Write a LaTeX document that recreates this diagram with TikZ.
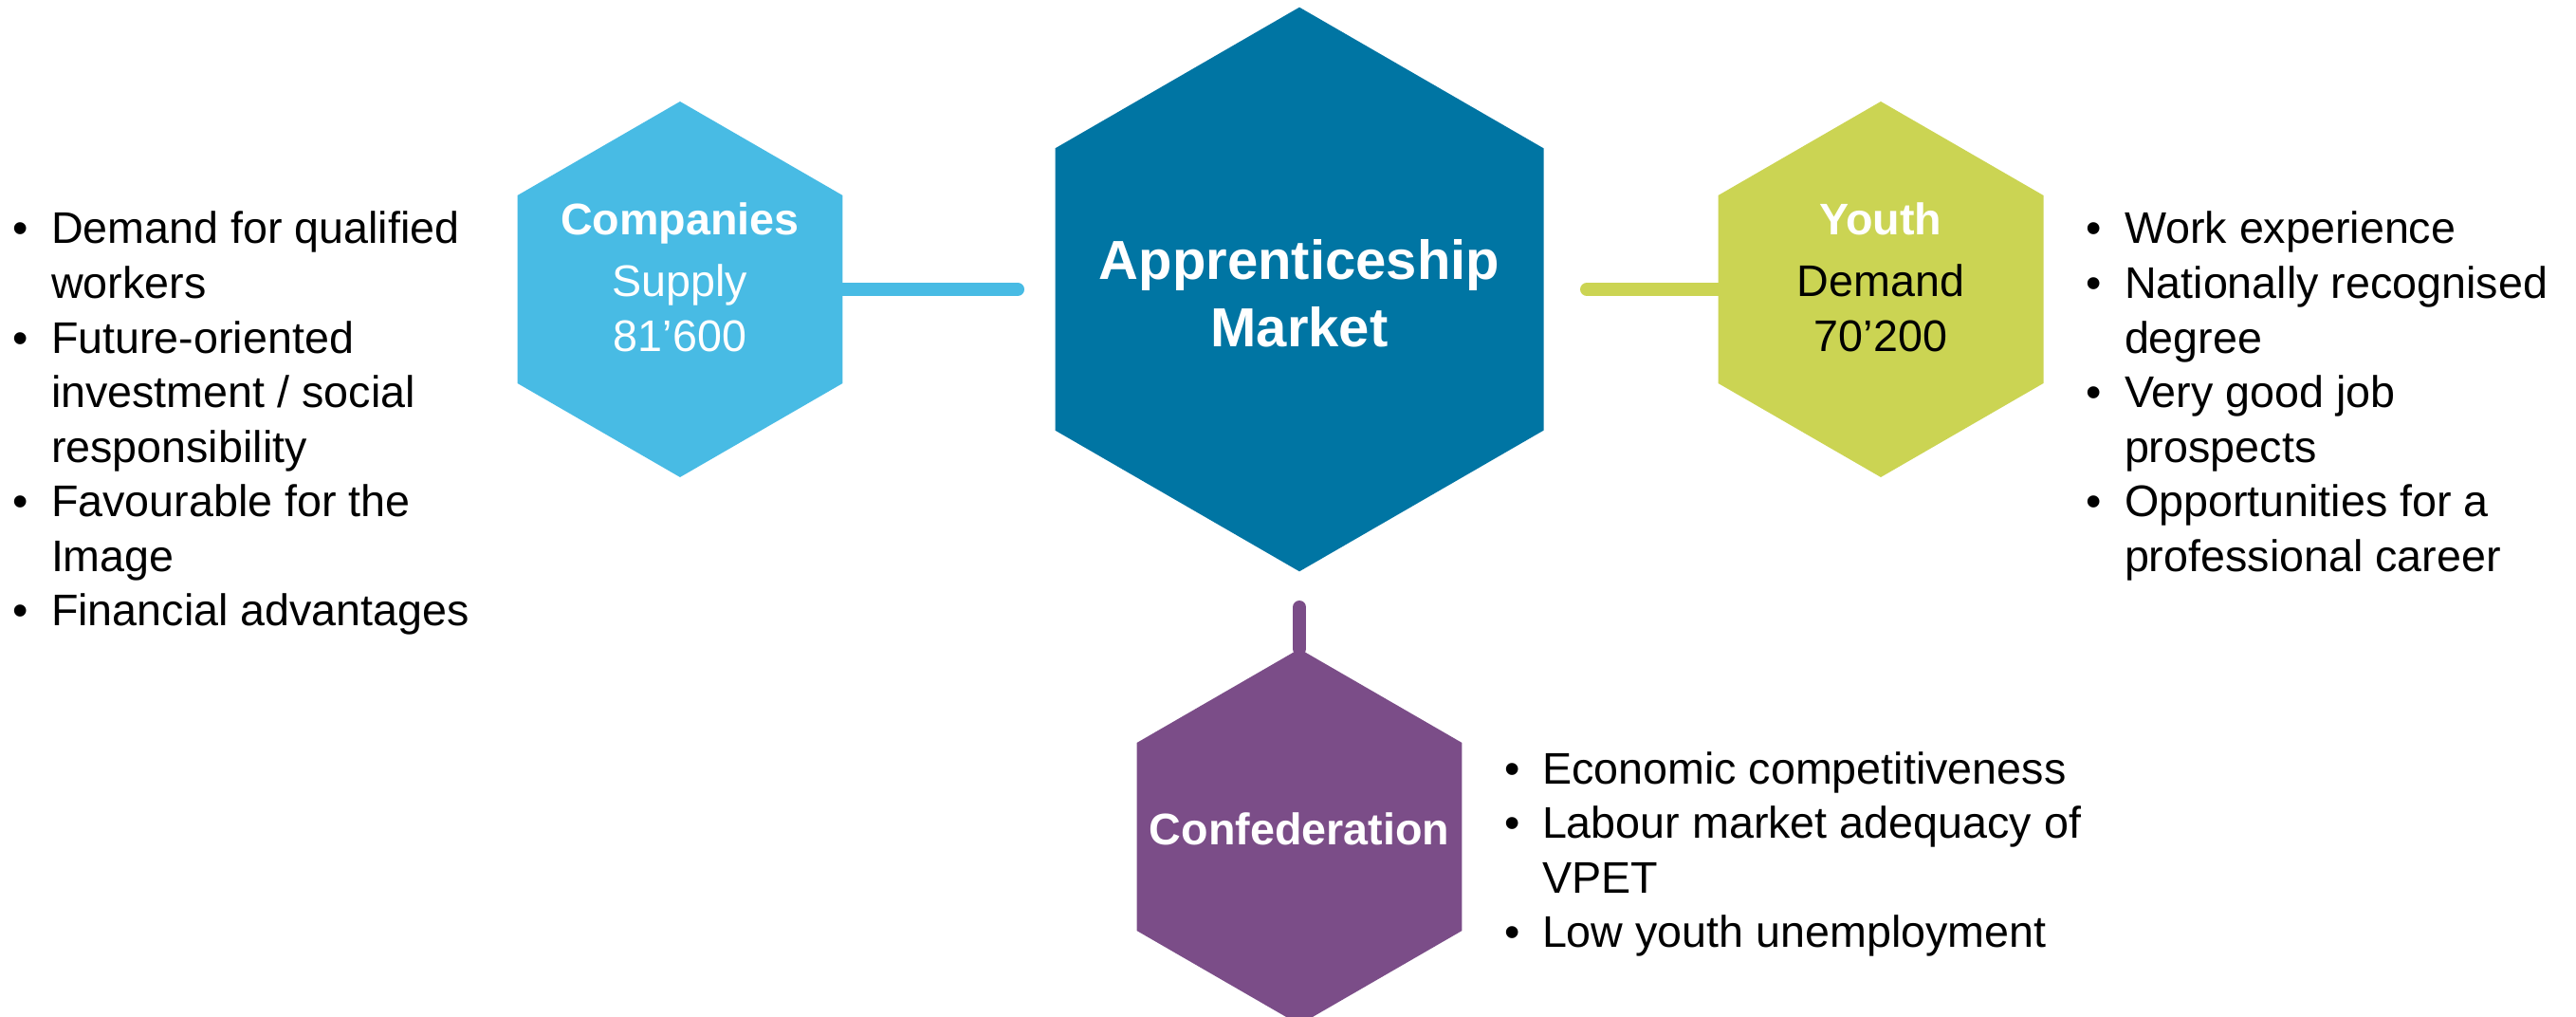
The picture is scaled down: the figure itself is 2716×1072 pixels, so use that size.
\documentclass[tikz,border=0pt]{standalone}
\usepackage{fontspec}
\setmainfont{Liberation Sans}
\usetikzlibrary{shapes.geometric}
\definecolor{compblue}{RGB}{72,187,228}
\definecolor{mktblue}{RGB}{0,117,163}
\definecolor{youthgreen}{RGB}{203,212,83}
\definecolor{confpurple}{RGB}{123,77,136}
\begin{document}
\begin{tikzpicture}[x=0.3pt,y=-0.3pt,
  hexa/.style={regular polygon, regular polygon sides=6, shape border rotate=30,
    inner sep=0pt, outer sep=0pt, draw=none},
  smallhex/.style={hexa, minimum size=118.8pt},
  conn/.style={line width=4.2pt, line cap=round},
  lbl/.style={anchor=base, inner sep=0pt, outer sep=0pt, font=\fontsize{14}{17}\selectfont},
  lblb/.style={lbl, font=\fontsize{14}{17}\selectfont\bfseries},
  item/.style={anchor=base west, inner sep=0pt, outer sep=0pt, font=\fontsize{14}{17}\selectfont},
]
\useasboundingbox (0,0) rectangle (2716,1072);

% hexagons
\node[hexa, minimum size=178.4pt, fill=mktblue] (mkt) at (1370,305) {};
\node[smallhex, fill=compblue] (comp) at (717,305) {};
\node[smallhex, fill=youthgreen] (youth) at (1983,305) {};
\node[smallhex, fill=confpurple] (conf) at (1370,882) {};

% connectors
\coordinate (c1) at (1073,305);
\coordinate (c2) at (1673,305);
\coordinate (c3) at (1370,640);
\draw[conn, compblue] (comp.0) -- (c1);
\draw[conn, youthgreen] (c2) -- (youth.180);
\draw[conn, confpurple] (c3) -- (conf.90);

% hexagon labels
\node[lbl, font=\fontsize{17.4}{21}\selectfont\bfseries, text=white] (tmk1) at (1370,294) {Apprenticeship};
\node[lbl, font=\fontsize{17.4}{21}\selectfont\bfseries, text=white] (tmk2) at (1370,366) {Market};

\node[lblb, text=white] (tcomp) at (717,248) {Companies};
\node[lbl, text=white] (tsup) at (717,313) {Supply};
\node[lbl, text=white] (tsupn) at (717,370) {81’600};

\node[lblb, text=white] (tyouth) at (1983,248) {Youth};
\node[lbl, text=black] (tdem) at (1983,313) {Demand};
\node[lbl, text=black] (tdemn) at (1983,370) {70’200};

\node[lblb, text=white] (tconf) at (1370,890) {Confederation};

% left list
\node[item] (lb1) at (14,257) {•};
\node[item] (l1) at (54,257) {Demand for qualified};
\node[item] (l2) at (54,314.5) {workers};
\node[item] (lb2) at (14,372) {•};
\node[item] (l3) at (54,372) {Future-oriented};
\node[item] (l4) at (54,429.5) {investment / social};
\node[item] (l5) at (54,487) {responsibility};
\node[item] (lb3) at (14,544.5) {•};
\node[item] (l6) at (54,544.5) {Favourable for the};
\node[item] (l7) at (54,602) {Image};
\node[item] (lb4) at (14,659.5) {•};
\node[item] (l8) at (54,659.5) {Financial advantages};

% right list
\node[item] (rb1) at (2199,257) {•};
\node[item] (r1) at (2240,257) {Work experience};
\node[item] (rb2) at (2199,314.5) {•};
\node[item] (r2) at (2240,314.5) {Nationally recognised};
\node[item] (r3) at (2240,372) {degree};
\node[item] (rb3) at (2199,429.5) {•};
\node[item] (r4) at (2240,429.5) {Very good job};
\node[item] (r5) at (2240,487) {prospects};
\node[item] (rb4) at (2199,544.5) {•};
\node[item] (r6) at (2240,544.5) {Opportunities for a};
\node[item] (r7) at (2240,602) {professional career};

% confederation list
\node[item] (cb1) at (1586,826) {•};
\node[item] (k1) at (1626,826) {Economic competitiveness};
\node[item] (cb2) at (1586,883.5) {•};
\node[item] (k2) at (1626,883.5) {Labour market adequacy of};
\node[item] (k3) at (1626,941) {VPET};
\node[item] (cb3) at (1586,998.5) {•};
\node[item] (k4) at (1626,998.5) {Low youth unemployment};
\end{tikzpicture}
\end{document}
